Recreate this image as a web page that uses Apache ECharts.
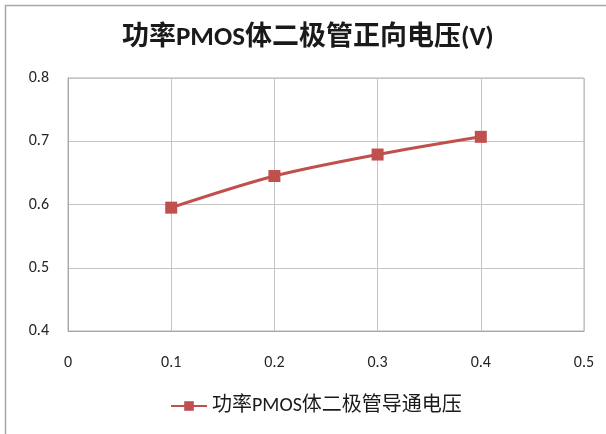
<!DOCTYPE html>
<html><head><meta charset="utf-8">
<script src="https://cdn.jsdelivr.net/npm/echarts@6/dist/echarts.min.js"></script>
<style>html,body{margin:0;padding:0;background:#fff}#c{width:606px;height:434px}</style>
</head><body><div id="c"></div>
<script>
const titleText = '功率PMOS体二极管正向电压(V)';
const seriesName = '功率PMOS体二极管导通电压';
const xValues = [0.1, 0.2, 0.3, 0.4];
const yValues = [0.595, 0.645, 0.679, 0.707];
const xTicks = [0, 0.1, 0.2, 0.3, 0.4, 0.5];
const yTicks = [0.4, 0.5, 0.6, 0.7, 0.8];

const chart = echarts.init(document.getElementById('c'), null, {renderer: 'canvas'});
const font = 'Calibri, "Noto Sans CJK SC", "Noto Sans", sans-serif';
chart.setOption({
  animation: false,
  backgroundColor: '#fff',
  graphic: [{
    type: 'rect', shape: {x: 5.5, y: 5.5, width: 700, height: 600},
    style: {fill: 'none', stroke: '#a8a8a8', lineWidth: 1.5}, silent: true, z: 100
  }],
  title: {
    text: titleText, left: 122, top: 25, padding: 0,
    textStyle: {fontFamily: font, fontSize: 27, fontWeight: 'bold', color: '#1a1a1a'}
  },
  grid: {left: 68, right: 22, top: 78, bottom: 103, show: true, borderColor: '#b0b0b0', borderWidth: 1},
  legend: {
    left: 165, top: 391, itemWidth: 36, itemHeight: 12, itemGap: 5,
    textStyle: {fontFamily: font, fontSize: 20, color: '#1a1a1a'},
    data: [seriesName]
  },
  xAxis: {
    type: 'value', min: xTicks[0], max: xTicks[xTicks.length - 1], interval: 0.1,
    axisLine: {show: true, lineStyle: {color: '#a8a8a8'}},
    axisTick: {show: false},
    splitLine: {show: true, lineStyle: {color: '#c4c4c4', width: 1}},
    axisLabel: {margin: 24, fontFamily: font, fontSize: 16, color: '#262626', formatter: v => String(+v.toFixed(1))}
  },
  yAxis: {
    type: 'value', min: yTicks[0], max: yTicks[yTicks.length - 1], interval: 0.1,
    axisLine: {show: true, lineStyle: {color: '#a8a8a8'}},
    axisTick: {show: false},
    splitLine: {show: true, lineStyle: {color: '#c4c4c4', width: 1}},
    axisLabel: {margin: 19, fontFamily: font, fontSize: 16, color: '#262626', formatter: v => v.toFixed(1)}
  },
  series: [{
    name: seriesName, type: 'line', smooth: 0.3,
    data: xValues.map((x, i) => [x, yValues[i]]),
    symbol: 'rect', symbolSize: 12,
    lineStyle: {color: '#C0504D', width: 3},
    itemStyle: {color: '#C0504D'}
  }]
});
</script></body></html>
